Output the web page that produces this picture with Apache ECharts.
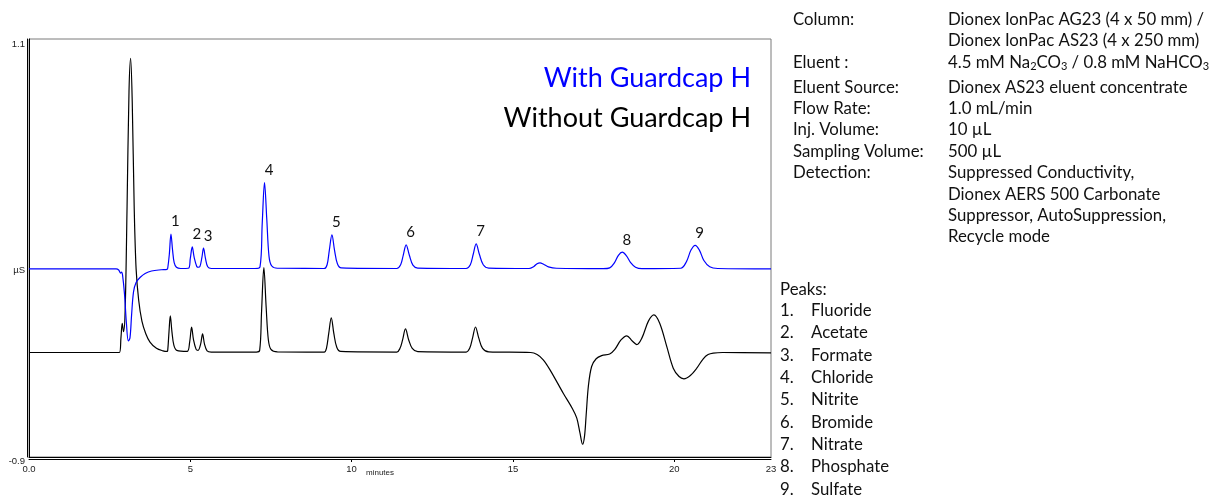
<!DOCTYPE html>
<html>
<head>
<meta charset="utf-8">
<script src="https://cdn.jsdelivr.net/npm/echarts@6/dist/echarts.min.js"></script>
<style>
html,body{margin:0;padding:0;background:#fff;}
#c{width:1209px;height:497px;}
</style>
</head>
<body>
<div id="c"></div>
<script>
// ---- data (time in minutes, response in µS) ----
const withGuardcap = [
  [0,0],[2.70,0],[2.78,-0.005],[2.84,-0.02],[2.87,-0.015],[2.90,-0.03],[2.96,-0.12],[3.02,-0.26],[3.08,-0.345],[3.13,-0.33],
  [3.18,-0.22],[3.24,-0.11],[3.32,-0.065],[3.45,-0.04],[3.6,-0.022],[3.8,-0.01],[4.1,-0.004],[4.28,-0.002],
  [4.30,0.003],[4.35,0.07],[4.40,0.167],[4.45,0.09],[4.50,0.03],[4.57,0.008],[4.7,0.002],
  [4.94,0.003],[5.0,0.05],[5.06,0.105],[5.12,0.055],[5.2,0.012],[5.25,0.008],
  [5.30,0.012],[5.36,0.055],[5.41,0.099],[5.47,0.05],[5.54,0.01],[5.65,0.002],
  [7.0,0.002],[7.16,0.01],[7.23,0.22],[7.30,0.413],[7.37,0.24],[7.44,0.06],[7.52,0.015],[7.7,0.003],
  [9.15,0.002],[9.24,0.02],[9.31,0.09],[9.39,0.163],[9.47,0.09],[9.56,0.025],[9.68,0.005],
  [11.4,0.002],[11.52,0.02],[11.6,0.065],[11.69,0.115],[11.79,0.065],[11.9,0.018],[12.05,0.004],
  [13.55,0.002],[13.68,0.02],[13.77,0.07],[13.86,0.12],[13.96,0.07],[14.08,0.02],[14.25,0.004],
  [15.5,0.002],[15.65,0.012],[15.75,0.025],[15.84,0.029],[15.95,0.022],[16.1,0.01],[16.35,0.003],
  [17.8,0.001],[18.0,0.005],[18.15,0.03],[18.27,0.065],[18.39,0.08],[18.52,0.062],[18.65,0.03],[18.8,0.008],[19.0,0.001],
  [20.2,0.003],[20.38,0.035],[20.52,0.09],[20.65,0.113],[20.78,0.09],[20.92,0.04],[21.1,0.01],[21.35,0.002],[23,0]
];
const withoutGuardcap = [
  [0,-0.4],[2.80,-0.4],[2.85,-0.33],[2.89,-0.26],[2.93,-0.3],[2.98,-0.2],[3.04,0.3],[3.10,0.85],[3.15,1.008],[3.20,0.8],
  [3.26,0.3],[3.32,0.0],[3.40,-0.15],[3.5,-0.25],[3.62,-0.31],[3.75,-0.35],[3.95,-0.38],[4.15,-0.392],[4.28,-0.395],
  [4.30,-0.39],[4.34,-0.3],[4.38,-0.225],[4.43,-0.3],[4.49,-0.365],[4.58,-0.39],[4.9,-0.395],
  [4.98,-0.35],[5.04,-0.279],[5.10,-0.34],[5.18,-0.385],[5.24,-0.39],
  [5.32,-0.36],[5.38,-0.311],[5.44,-0.36],[5.52,-0.392],[5.65,-0.398],
  [7.05,-0.398],[7.15,-0.39],[7.21,-0.2],[7.28,0.006],[7.35,-0.18],[7.42,-0.34],[7.5,-0.385],[7.7,-0.397],
  [9.15,-0.398],[9.22,-0.38],[9.29,-0.31],[9.37,-0.234],[9.45,-0.31],[9.54,-0.375],[9.66,-0.395],
  [11.4,-0.398],[11.5,-0.38],[11.58,-0.34],[11.67,-0.287],[11.77,-0.34],[11.88,-0.38],[12.05,-0.396],
  [13.55,-0.398],[13.66,-0.38],[13.75,-0.33],[13.84,-0.278],[13.94,-0.33],[14.06,-0.38],[14.25,-0.397],
  [15.55,-0.4],[15.75,-0.41],[15.94,-0.435],[16.15,-0.483],[16.56,-0.595],[16.85,-0.67],[16.98,-0.714],[17.08,-0.786],
  [17.16,-0.839],[17.22,-0.8],[17.27,-0.7],[17.34,-0.56],[17.44,-0.467],[17.58,-0.43],[17.75,-0.415],[18.0,-0.407],
  [18.16,-0.385],[18.35,-0.34],[18.53,-0.32],[18.7,-0.345],[18.84,-0.362],[19.0,-0.33],[19.2,-0.25],[19.37,-0.22],
  [19.55,-0.26],[19.77,-0.372],[19.97,-0.475],[20.15,-0.515],[20.30,-0.526],[20.5,-0.51],[20.70,-0.475],[20.9,-0.43],
  [21.05,-0.41],[21.21,-0.403],[21.5,-0.4],[23,-0.402]
];
const peakNumbers = ['1','2','3','4','5','6','7','8','9'];
const peakTimes = [4.40,5.06,5.41,7.30,9.39,11.69,13.86,18.39,20.65];
const peakHeights = [0.167,0.105,0.099,0.413,0.163,0.115,0.12,0.08,0.113];
const peakNames = ['Fluoride','Acetate','Formate','Chloride','Nitrite','Bromide','Nitrate','Phosphate','Sulfate'];
const xTicks = [0,5,10,15,20,23];
const yTicks = [-0.9,0,1.1];
const conditions = [
  ['Column:', 'Dionex IonPac AG23 (4 x 50 mm) /'],
  ['', 'Dionex IonPac AS23 (4 x 250 mm)'],
  ['Eluent :', '4.5 mM Na{s|2}CO{s|3} / 0.8 mM NaHCO{s|3}'],
  ['Eluent Source:', 'Dionex AS23 eluent concentrate'],
  ['Flow Rate:', '1.0 mL/min'],
  ['Inj. Volume:', '10 µL'],
  ['Sampling Volume:', '500 µL'],
  ['Detection:', 'Suppressed Conductivity,'],
  ['', 'Dionex AERS 500 Carbonate'],
  ['', 'Suppressor, AutoSuppression,'],
  ['', 'Recycle mode']
];

const chart = echarts.init(document.getElementById('c'), null, {renderer:'canvas'});
const txtFont = 'Lato, "Open Sans", sans-serif';
const axFont = '"Liberation Sans", Arial, sans-serif';

const graphics = [];
graphics.push({type:'text', right: 1209-751, top: 65, style:{text:'With Guardcap H', font:'27px '+txtFont, fill:'#0000ff'}});
graphics.push({type:'text', right: 1209-751, top: 105, style:{text:'Without Guardcap H', font:'27px '+txtFont, fill:'#000'}});
graphics.push({type:'text', left: 366, top: 469, style:{text:'minutes', font:'8px '+axFont, fill:'#222'}});
conditions.forEach((row, i) => {
  const y = 11 + i*21.4 + (i >= 3 ? 3.5 : 0);
  if (row[0]) graphics.push({type:'text', left: 793, top: y, style:{text: row[0], font:'16.8px '+txtFont, fill:'#111'}});
  graphics.push({type:'text', left: 948, top: y, style:{text: row[1], font:'16.8px '+txtFont, fill:'#111',
    rich:{s:{fontSize:11, fontFamily:'Lato', fill:'#111', padding:[9,0,0,0]}}}});
});
graphics.push({type:'text', left: 780, top: 281, style:{text:'Peaks:', font:'16.8px '+txtFont, fill:'#111'}});
peakNames.forEach((n, i) => {
  const y = 302 + i*22.35;
  graphics.push({type:'text', left: 780, top: y, style:{text: (i+1)+'.', font:'16.8px '+txtFont, fill:'#111'}});
  graphics.push({type:'text', left: 811, top: y, style:{text: n, font:'16.8px '+txtFont, fill:'#111'}});
});

const markData = peakTimes.map((t, i) => ({coord:[t, peakHeights[i]], value: peakNumbers[i]}));

const baseAxisX = {type:'value', min:0, max:23};
const baseAxisY = {type:'value', min:-0.9, max:1.1};

chart.setOption({
  animation:false,
  backgroundColor:'#fff',
  grid:{left:29, right:438, top:39, bottom:40, show:true, borderColor:'#7a7a7a', borderWidth:1, backgroundColor:'transparent'},
  xAxis:[
    Object.assign({}, baseAxisX, {position:'bottom',
      axisLine:{show:true, onZero:false, lineStyle:{color:'#000', width:1}},
      axisTick:{show:false}, axisLabel:{show:false}, splitLine:{show:false}}),
    Object.assign({}, baseAxisX, {position:'bottom', offset:2,
      axisLine:{show:true, onZero:false, lineStyle:{color:'#000', width:1}},
      axisTick:{show:true, customValues:xTicks.slice(1,5), length:3, lineStyle:{color:'#000'}},
      axisLabel:{show:true, customValues:xTicks, margin:5, fontSize:9.5, fontFamily:'Liberation Sans', color:'#222',
        formatter: v => v === 0 ? '0.0' : String(v)},
      splitLine:{show:false}})
  ],
  yAxis:[
    Object.assign({}, baseAxisY, {position:'left',
      axisLine:{show:true, onZero:false, lineStyle:{color:'#000', width:1}},
      axisTick:{show:false}, axisLabel:{show:false}, splitLine:{show:false}}),
    Object.assign({}, baseAxisY, {position:'left', offset:2,
      axisLine:{show:true, onZero:false, lineStyle:{color:'#000', width:1}},
      axisTick:{show:false},
      axisLabel:{show:true, customValues:yTicks, margin:2, fontSize:9.5, fontFamily:'Liberation Sans', color:'#222',
        formatter: v => v === 0 ? '{m|µS}' : (v > 0 ? '{t|1.1}' : '{b|-0.9}'),
        rich:{
          t:{fontSize:9.5, fontFamily:'Liberation Sans', color:'#222', padding:[10,0,0,0]},
          m:{fontSize:9.5, fontFamily:'Liberation Sans', color:'#222', padding:[2,0,0,0]},
          b:{fontSize:9.5, fontFamily:'Liberation Sans', color:'#222', padding:[8,0,0,0]}
        }},
      splitLine:{show:false}})
  ],
  series:[
    {type:'line', name:'Without Guardcap H', data: withoutGuardcap, xAxisIndex:0, yAxisIndex:0,
     showSymbol:false, smooth:0.35, lineStyle:{color:'#000', width:1.2}, z:2},
    {type:'line', name:'With Guardcap H', data: withGuardcap, xAxisIndex:0, yAxisIndex:0,
     showSymbol:false, smooth:0.35, lineStyle:{color:'#0000ff', width:1.2}, z:3,
     markPoint:{symbol:'circle', symbolSize:0, data: markData,
       label:{show:true, formatter: p => p.value, color:'#111', fontSize:15, fontFamily:'Lato',
         position:'top', distance:5, offset:[4.5,0]}}}
  ],
  graphic: graphics
});
</script>
</body>
</html>
